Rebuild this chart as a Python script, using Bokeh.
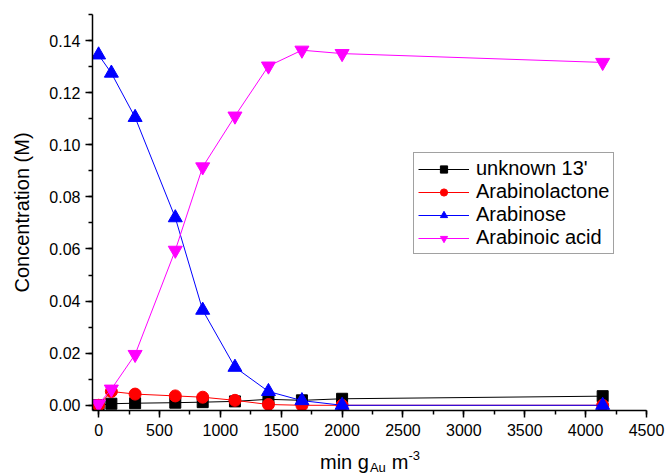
from bokeh.plotting import figure
from bokeh.models import FixedTicker, Range1d, Legend, LegendItem, NumeralTickFormatter, Div
from bokeh.layouts import column
from bokeh.embed import file_html
from bokeh.resources import INLINE

x = [0, 105, 300, 630, 855, 1120, 1395, 1670, 2000, 4140]
unknown13 = [0.0, 0.0006, 0.0008, 0.0010, 0.0012, 0.0015, 0.0023, 0.0019, 0.0025, 0.0035]
arabinolactone = [0.0, 0.0053, 0.0043, 0.0036, 0.0031, 0.0019, 0.0003, 0.0, 0.0, 0.0]
arabinose = [0.1345, 0.1275, 0.1105, 0.0720, 0.0365, 0.0146, 0.0053, 0.0018, 0.0, 0.0]
arabinoic = [0.0005, 0.0062, 0.0195, 0.0595, 0.0915, 0.111, 0.1302, 0.1363, 0.1350, 0.1316]

series = [
    ("unknown 13'", unknown13, "black", "square", 11),
    ("Arabinolactone", arabinolactone, "red", "circle", 12),
    ("Arabinose", arabinose, "blue", "triangle", 14),
    ("Arabinoic acid", arabinoic, "magenta", "inverted_triangle", 14),
]

FONT = "Liberation Sans"
PLOT_H = 448

p = figure(width=666, height=PLOT_H, output_backend="svg", toolbar_location=None,
           x_range=Range1d(-50, 4500), y_range=Range1d(-0.002, 0.15),
           min_border_left=92, min_border_right=20, min_border_top=14,
           min_border_bottom=38)
p.outline_line_color = None
p.grid.visible = False
p.background_fill_color = "white"

items = []
for name, ys, col, mk, sz in series:
    r1 = p.line(x, ys, line_color=col, line_width=1)
    r2 = p.scatter(x, ys, marker=mk, size=sz, fill_color=col, line_color=col)
    items.append(LegendItem(label=name, renderers=[r1, r2]))

legend = Legend(items=items, location=(321, 156), label_text_font=FONT,
                label_text_font_size="20px", label_text_color="black",
                border_line_color="#444444", border_line_width=1,
                glyph_width=51, glyph_height=18, spacing=0, padding=4, margin=0,
                label_standoff=7, label_height=18, background_fill_alpha=1)
p.add_layout(legend, "center")

for ax in (p.xaxis, p.yaxis):
    ax.axis_line_color = "black"
    ax.axis_line_width = 1.5
    ax.major_tick_line_color = "black"
    ax.major_tick_line_width = 1.5
    ax.minor_tick_line_color = "black"
    ax.minor_tick_line_width = 1.5
    ax.major_tick_out = 7
    ax.major_tick_in = 0
    ax.minor_tick_out = 4
    ax.minor_tick_in = 0
    ax.major_label_text_font = FONT
    ax.major_label_text_font_size = "16px"
    ax.major_label_text_color = "black"

p.xaxis.ticker = FixedTicker(ticks=list(range(0, 4501, 500)), minor_ticks=list(range(0, 4501, 250)))
p.yaxis.ticker = FixedTicker(ticks=[i * 0.02 for i in range(8)], minor_ticks=[i * 0.01 for i in range(16)])
p.yaxis.formatter = NumeralTickFormatter(format="0.00")
p.yaxis.axis_label = "Concentration (M)"
p.yaxis.axis_label_text_font = FONT
p.yaxis.axis_label_text_font_size = "20px"
p.yaxis.axis_label_text_font_style = "normal"
p.yaxis.axis_label_text_color = "black"
p.yaxis.axis_label_standoff = 13
p.xaxis.major_label_standoff = 6

x_title = Div(
    text=("<div style=\"font-family:'Liberation Sans';font-size:20px;line-height:18px;"
          "padding-left:320px;padding-top:5px;white-space:nowrap;color:black\">"
          "min g<span style=\"font-size:13px;line-height:13px;position:relative;top:3px;margin-left:1px\">Au</span>"
          "<span style=\"margin-left:6px\">m</span>"
          "<span style=\"font-size:13px;line-height:13px;position:relative;top:-9px\">-3</span></div>"),
    width=666, height=474 - PLOT_H, margin=0)

layout = column(p, x_title, spacing=0)
open("out.html", "w").write(file_html(layout, INLINE))
